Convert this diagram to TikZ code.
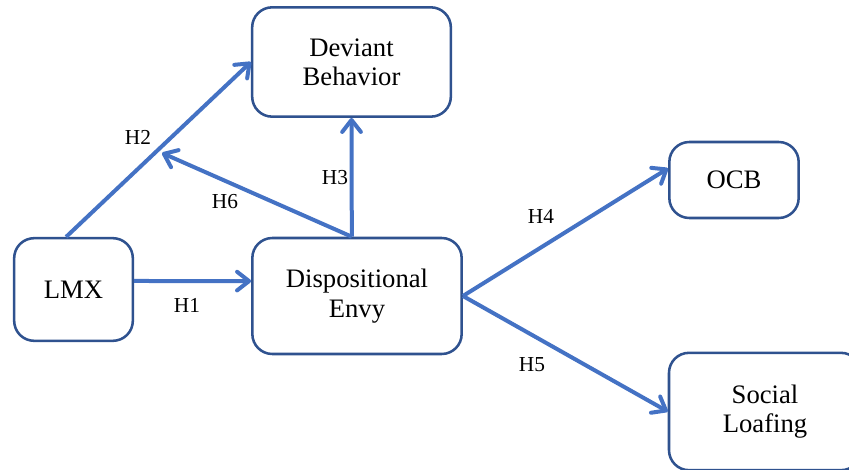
\documentclass[tikz,border=0pt]{standalone}
\usepackage{fontspec}
\setmainfont{Liberation Serif}
\usetikzlibrary{arrows.meta}
\definecolor{boxline}{HTML}{2F528F}
\definecolor{arrowblue}{HTML}{4472C4}

\begin{document}
\begin{tikzpicture}[x=0.75pt,y=-0.75pt,>={Straight Barb[length=9pt,width=14pt,round]},
    var/.style={draw=boxline,line width=1.9pt,rounded corners=15pt,align=center,
                font=\fontsize{20}{22}\selectfont,inner sep=0pt},
    hyp/.style={font=\fontsize{16}{18}\selectfont}]
                  \useasboundingbox (0,0) rectangle (849,470);
                  \node[var,minimum width=89pt,minimum height=77pt]  (1) at (73.5,289.5) {LMX};
                  \node[var,minimum width=157pt,minimum height=87pt] (2) at (357,296)   {Dispositional\\Envy};
                  \node[var,minimum width=149pt,minimum height=82pt] (3) at (351.5,62)  {Deviant\\Behavior};
                  \node[var,minimum width=97pt,minimum height=57pt]  (4) at (734,180)   {OCB};
                  \node[var,minimum width=144pt,minimum height=88pt] (5) at (765,411.5) {Social\\Loafing};
                  \coordinate (6) at (162,153);

                  \node[hyp] (h1) at (187,305) {H1};
                  \node[hyp] (h2) at (138,137) {H2};
                  \node[hyp] (h3) at (335,178) {H3};
                  \node[hyp] (h4) at (541,216) {H4};
                  \node[hyp] (h5) at (532,365) {H5};
                  \node[hyp] (h6) at (225,202) {H6};

                      \path[draw=arrowblue, line width = 3pt, every edge/.append style={->}] 
                               (1.8) edge (2.172)
                               (1.98) edge (3.west)
                               (2.95) edge (3.south)
                                      edge (6)
                               (2.east) edge (4.170)
                                        edge (5.west);
        \end{tikzpicture}
\end{document}
